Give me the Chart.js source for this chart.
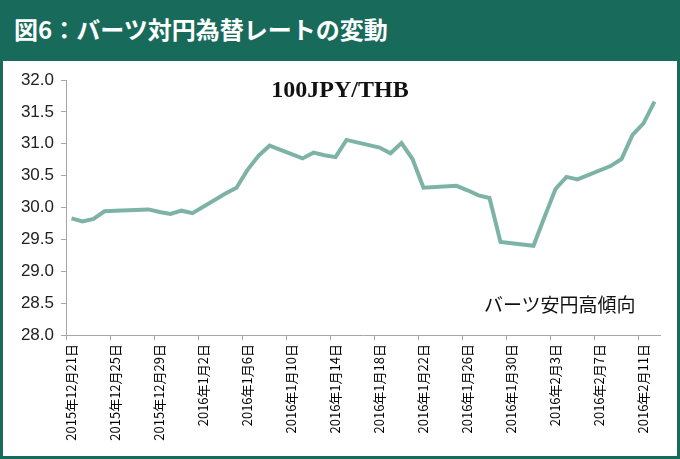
<!DOCTYPE html>
<html>
<head>
<meta charset="utf-8">
<script src="https://cdn.jsdelivr.net/npm/chart.js@4/dist/chart.umd.min.js"></script>
<style>
body { margin: 0; }
#frame { position: relative; width: 680px; height: 459px; background: #186b5b; overflow: hidden; }
#head { position: absolute; left: 14px; top: 11px; color: #fff; font: bold 24px "Noto Sans CJK JP"; }
#panel { position: absolute; left: 3px; top: 61px; width: 674px; height: 395px; background: #fff; }
#pair { position: absolute; left: 0; width: 680px; top: 76px; text-align: center; font: bold 24px "Liberation Serif"; color: #111; }
#note { position: absolute; left: 484px; top: 290px; font: 19px "Noto Sans CJK JP"; color: #111; }
canvas { position: absolute; left: 0; top: 0; }
</style>
</head>
<body>
<div id="frame">
  <div id="head">図6：バーツ対円為替レートの変動</div>
  <div id="panel"><canvas id="chart" width="674" height="395"></canvas></div>
  <div id="pair">100JPY/THB</div>
  <div id="note">バーツ安円高傾向</div>
</div>
<script>
// trading days and 100JPY/THB rate
var dates = [
  '2015-12-21','2015-12-22','2015-12-23','2015-12-24','2015-12-25',
  '2015-12-28','2015-12-29','2015-12-30','2015-12-31','2016-01-01',
  '2016-01-04','2016-01-05','2016-01-06','2016-01-07','2016-01-08',
  '2016-01-11','2016-01-12','2016-01-13','2016-01-14','2016-01-15',
  '2016-01-18','2016-01-19','2016-01-20','2016-01-21','2016-01-22',
  '2016-01-25','2016-01-26','2016-01-27','2016-01-28','2016-01-29',
  '2016-02-01','2016-02-02','2016-02-03','2016-02-04','2016-02-05',
  '2016-02-08','2016-02-09','2016-02-10','2016-02-11','2016-02-12'
];
var rates = [
  29.83, 29.78, 29.82, 29.94, 29.95,
  29.97, 29.93, 29.90, 29.95, 29.91,
  30.22, 30.31, 30.59, 30.81, 30.97,
  30.77, 30.86, 30.82, 30.79, 31.06,
  30.94, 30.85, 31.01, 30.76, 30.31,
  30.34, 30.27, 30.19, 30.15, 29.46,
  29.40, 29.85, 30.29, 30.48, 30.44,
  30.65, 30.76, 31.14, 31.32, 31.66
];
var yTicks = [28.0, 28.5, 29.0, 29.5, 30.0, 30.5, 31.0, 31.5, 32.0];
var tickEvery = 4;

var fmt = function (d) {
    return d.getUTCFullYear() + '年' + (d.getUTCMonth() + 1) + '月' + d.getUTCDate() + '日';
};

// calendar axis: every day from first to last date
var days = [];
var d0 = new Date(dates[0] + 'T00:00:00Z');
var d1 = new Date(dates[dates.length - 1] + 'T00:00:00Z');
for (var t = d0.getTime(); t <= d1.getTime(); t += 86400000) {
    days.push(fmt(new Date(t)));
}

var points = [];
dates.forEach(function (s, i) {
    points.push({ x: fmt(new Date(s + 'T00:00:00Z')), y: rates[i] });
});

var axisGray = '#a6a6a6';

var config = {
    type: 'line',
    data: {
        labels: days,
        datasets: [{
            data: points,
            borderColor: '#7db3a6',
            borderWidth: 4,
            pointRadius: 0,
            tension: 0,
            fill: false
        }]
    },
    options: {
        responsive: false,
        animation: false,
        layout: { padding: { top: 19, right: 17, left: 0, bottom: 0 } },
        plugins: { legend: { display: false }, tooltip: { enabled: false } },
        scales: {
            x: {
                type: 'category',
                offset: true,
                border: { color: axisGray, width: 1 },
                grid: {
                    offset: true,
                    drawOnChartArea: false,
                    tickLength: 5,
                    color: function (c) { return c.index % tickEvery === 0 ? axisGray : 'rgba(0,0,0,0)'; }
                },
                ticks: {
                    autoSkip: false,
                    minRotation: 90,
                    maxRotation: 90,
                    padding: 4,
                    color: '#000',
                    font: { family: '"Noto Sans CJK JP"', size: 13 },
                    callback: function (v, i) { return i % tickEvery === 0 ? this.getLabelForValue(v) : ''; }
                },
                afterFit: function (s) { s.height = 121; }
            },
            y: {
                min: 28,
                max: 32,
                border: { color: axisGray, width: 1 },
                grid: { drawOnChartArea: false, tickLength: 5, color: axisGray },
                afterBuildTicks: function (s) { s.ticks = yTicks.map(function (v) { return { value: v }; }); },
                ticks: {
                    padding: 7,
                    color: '#222',
                    font: { family: '"Liberation Sans"', size: 17 },
                    callback: function (v) { return v.toFixed(1); }
                },
                afterFit: function (s) { s.width = 63; }
            }
        }
    }
};

var ctx = document.getElementById('chart').getContext('2d');
window.myLine = new Chart(ctx, config);
</script>
</body>
</html>
